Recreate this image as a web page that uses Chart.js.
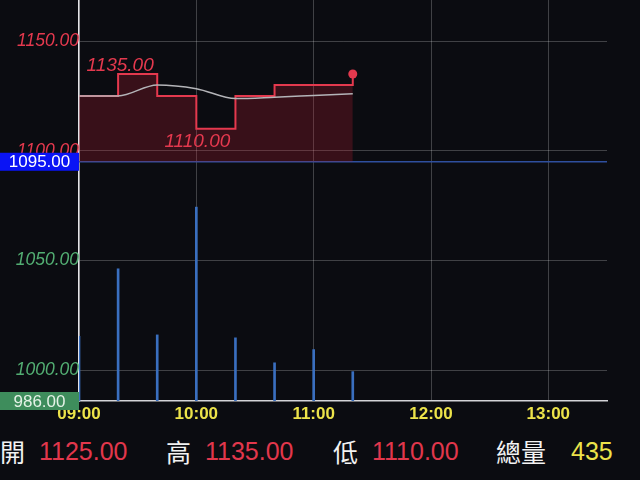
<!DOCTYPE html>
<html>
<head>
<meta charset="utf-8">
<script src="https://cdn.jsdelivr.net/npm/chart.js@4/dist/chart.umd.min.js"></script>
<style>
  html, body { margin: 0; padding: 0; background: #0b0c11; }
  #wrap { position: relative; width: 640px; height: 480px; overflow: hidden; }
  #box { position: absolute; left: 0; top: 0; width: 640px; height: 430px; }
  #stats { position: absolute; left: 0; top: 432px; width: 640px; height: 38px; line-height: 38px;
           font-size: 25px; font-family: "Liberation Sans", "Noto Sans CJK TC", sans-serif; }
  #stats span { position: absolute; top: 0; white-space: nowrap; }
  .lbl { color: #f2f2f2; font-family: "Noto Sans CJK TC", sans-serif; }
  .red { color: #e2374c; }
  .yel { color: #ece34a; }
</style>
</head>
<body>
<div id="wrap">
  <div id="box"><canvas id="chart"></canvas></div>
  <div id="stats"></div>
</div>
<script>
// intraday ticks, every 20 minutes
const times = ['09:00', '09:20', '09:40', '10:00', '10:20', '10:40', '11:00', '11:20'];
const prices = [1125, 1135, 1125, 1110, 1125, 1130, 1130, 1135];
const avgPrices = [1125, 1125, 1130, 1128.3, 1123.8, 1124.4, 1125.2, 1126];
const volumes = [44, 90, 45, 132, 43, 26, 35, 20];

const refPrice = 1095;     // previous close
const axisMin = 986;
const axisMax = 1168.7;
const priceTicks = [1000, 1050, 1100, 1150];
const hourLabels = ['09:00', '10:00', '11:00', '12:00', '13:00'];
const sessionEnd = '13:30';
const statNames = ['開', '高', '低', '總量'];

const toMin = t => { const [h, m] = t.split(':').map(Number); return (h - 9) * 60 + m; };
const fmt = v => v.toFixed(2);

const RED = '#e4394e';
const GREEN = '#52ad72';

const pricePts = times.map((t, i) => ({ x: toMin(t), y: prices[i] }));
const avgPts = times.map((t, i) => ({ x: toMin(t), y: avgPrices[i] }));
const volPts = times.map((t, i) => ({ x: toMin(t), y: volumes[i] }));

const hi = Math.max(...prices);
const lo = Math.min(...prices);
const hiIdx = prices.indexOf(hi);
const loIdx = prices.indexOf(lo);

const noPad = s => { s.paddingTop = 0; s.paddingBottom = 0; s.paddingLeft = 0; s.paddingRight = 0; };

const labelBox = (ctx, text, y, bg, fg) => {
  ctx.fillStyle = bg;
  ctx.fillRect(0, y - 9, 79, 18);
  ctx.fillStyle = fg;
  ctx.font = '17px "Liberation Sans", sans-serif';
  ctx.textAlign = 'center';
  ctx.textBaseline = 'middle';
  ctx.fillText(text, 39.5, y + 1);
};

const overlay = {
  id: 'overlay',
  beforeDatasetsDraw(chart) {
    const { ctx, chartArea, scales } = chart;
    const y = scales.y.getPixelForValue(refPrice);
    ctx.save();
    ctx.strokeStyle = '#2f4f9e';
    ctx.lineWidth = 1.5;
    ctx.beginPath();
    ctx.moveTo(chartArea.left, y);
    ctx.lineTo(chartArea.right, y);
    ctx.stroke();
    ctx.restore();
  },
  afterDraw(chart) {
    const { ctx, scales } = chart;
    ctx.save();
    // high / low labels
    ctx.font = 'italic 19px "Liberation Sans", sans-serif';
    ctx.fillStyle = RED;
    ctx.textAlign = 'center';
    ctx.textBaseline = 'alphabetic';
    ctx.fillText(fmt(hi), scales.x.getPixelForValue(toMin(times[hiIdx])) + 2,
      scales.y.getPixelForValue(hi) - 2.5);
    ctx.fillText(fmt(lo), scales.x.getPixelForValue(toMin(times[loIdx])) + 1,
      scales.y.getPixelForValue(lo) + 18);
    // reference and floor labels on the axis
    labelBox(ctx, fmt(refPrice), scales.y.getPixelForValue(refPrice), '#0a14f5', '#ffffff');
    labelBox(ctx, fmt(axisMin), scales.y.getPixelForValue(axisMin), '#3e8d5c', '#e4f2e6');
    ctx.restore();
  }
};

new Chart(document.getElementById('chart'), {
  type: 'line',
  data: {
    datasets: [
      {
        label: 'avg',
        data: avgPts,
        borderColor: '#b4b4b8',
        borderWidth: 1.5,
        pointRadius: 0,
        tension: 0.35,
        cubicInterpolationMode: 'monotone',
        order: 0
      },
      {
        label: 'price',
        data: pricePts,
        borderColor: RED,
        borderWidth: 2,
        stepped: true,
        fill: { value: refPrice },
        backgroundColor: 'rgba(190, 28, 50, 0.25)',
        pointRadius: prices.map((p, i) => (i === prices.length - 1 ? 4.5 : 0)),
        pointBackgroundColor: RED,
        pointBorderWidth: 0,
        order: 1
      },
      {
        type: 'bar',
        label: 'volume',
        data: volPts,
        yAxisID: 'vol',
        backgroundColor: '#3a6fbf',
        barThickness: 2,
        order: 2
      }
    ]
  },
  options: {
    responsive: true,
    maintainAspectRatio: false,
    animation: false,
    events: [],
    layout: { autoPadding: false, padding: { left: 0, right: 33, top: 0, bottom: 0 } },
    plugins: { legend: { display: false }, tooltip: { enabled: false } },
    scales: {
      x: {
        type: 'linear',
        offset: false,
        min: 0,
        max: toMin(sessionEnd),
        afterBuildTicks: s => { s.ticks = hourLabels.map(h => ({ value: toMin(h) })); },
        afterFit: s => { s.height = 29; noPad(s); },
        grid: { color: 'rgba(255,255,255,0.22)', lineWidth: 1, drawTicks: false, offset: false },
        border: { color: '#d4d4d8', width: 1.5 },
        ticks: {
          color: '#ece34a',
          padding: 3,
          maxRotation: 0,
          font: { family: '"Liberation Sans", sans-serif', size: 17, weight: 'bold' },
          callback: v => hourLabels[hourLabels.map(toMin).indexOf(v)]
        }
      },
      y: {
        min: axisMin,
        max: axisMax,
        afterBuildTicks: s => { s.ticks = priceTicks.map(v => ({ value: v })); },
        afterFit: s => { s.width = 79; noPad(s); },
        grid: { color: 'rgba(255,255,255,0.22)', lineWidth: 1, drawTicks: false },
        border: { color: '#e4e4e8', width: 1.5 },
        ticks: {
          padding: 0,
          color: c => (c.tick && c.tick.value >= refPrice ? RED : GREEN),
          font: { family: '"Liberation Sans", sans-serif', size: 17.5, style: 'italic' },
          callback: v => fmt(v)
        }
      },
      vol: {
        display: false,
        min: 0,
        max: 273
      }
    }
  },
  plugins: [overlay]
});

// summary row under the chart
const statVals = [
  { text: fmt(prices[0]), cls: 'red' },
  { text: fmt(hi), cls: 'red' },
  { text: fmt(lo), cls: 'red' },
  { text: String(volumes.reduce((a, b) => a + b, 0)), cls: 'yel' }
];
const nameLeft = [0, 166, 333, 496];
const valLeft = [39, 205, 372, 571];
const stats = document.getElementById('stats');
statNames.forEach((n, i) => {
  const a = document.createElement('span');
  a.className = 'lbl';
  a.style.left = nameLeft[i] + 'px';
  a.textContent = n;
  const b = document.createElement('span');
  b.className = statVals[i].cls;
  b.style.left = valLeft[i] + 'px';
  b.textContent = statVals[i].text;
  stats.appendChild(a);
  stats.appendChild(b);
});
</script>
</body>
</html>
